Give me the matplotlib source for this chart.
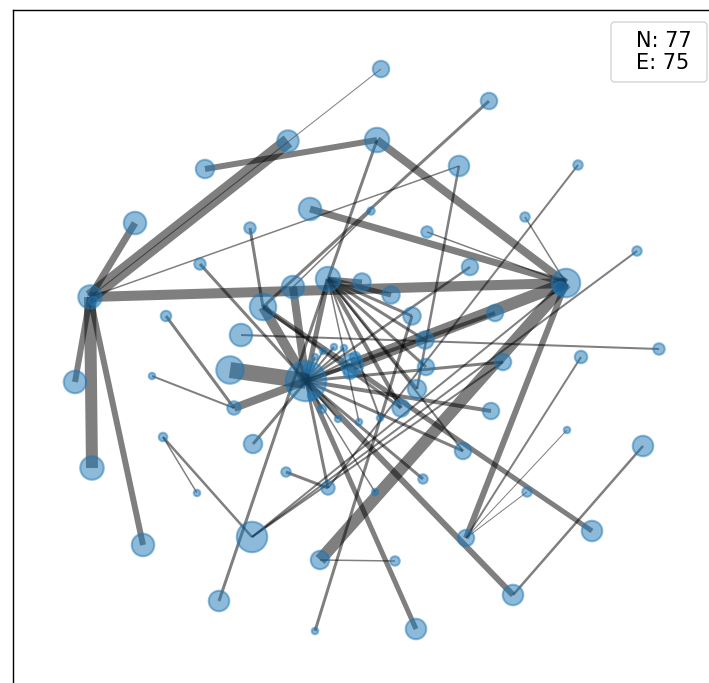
import matplotlib
matplotlib.use("Agg")
import matplotlib.pyplot as plt
from matplotlib.collections import LineCollection
from matplotlib.patches import FancyBboxPatch
import numpy as np

# ---- data: node layout positions, node radii ----
node_x = [381, 489, 288, 377, 205, 459, 578, 135, 310, 371,
          525, 250, 427, 637, 200, 470, 566, 90, 293, 328,
          362, 391, 263, 166, 412, 495, 241, 425, 659, 581,
          75, 230, 152, 306, 352, 355, 334, 344, 323, 315,
          426, 503, 417, 401, 491, 234, 322, 338, 359, 380,
          163, 253, 463, 286, 328, 423, 375, 567, 643, 197,
          527, 252, 143, 466, 592, 320, 395, 513, 219, 416,
          315, 92, 309, 312, 560, 93, 350]
node_y = [69, 101, 141, 140, 169, 166, 165, 223, 209, 211,
          217, 228, 232, 251, 264, 267, 283, 297, 287, 279,
          282, 295, 307, 316, 316, 313, 335, 340, 349, 357,
          382, 370, 376, 381, 365, 357, 347, 348, 351, 357,
          367, 362, 389, 408, 411, 408, 409, 419, 422, 418,
          437, 444, 451, 472, 488, 479, 492, 430, 446, 493,
          492, 537, 545, 538, 531, 560, 561, 595, 601, 629,
          631, 468, 368, 396, 288, 301, 373]
node_r = [9, 9, 11.5, 13, 10, 11, 5.5, 12, 12, 4.5,
          5.5, 6.5, 6.5, 5.5, 6.5, 9, 15, 12.5, 12, 13,
          9.5, 9.5, 14, 6, 9.5, 9, 12, 9.5, 6.5, 7,
          12, 14.5, 4, 21, 12, 6, 4, 4, 4, 4,
          9, 9, 10, 9.5, 9, 7.5, 5, 4, 4, 4,
          5, 10, 9, 5.5, 7.5, 5.5, 4, 4, 11, 4,
          5.5, 16, 12, 9, 11, 10, 5.5, 11, 11, 11,
          4, 12.5, 6, 5, 7, 5, 7]

# ---- data: edges (source index, target index, weight as drawn width) ----
edge_src = [17, 17, 17, 17, 17, 17, 17, 17, 4, 3,
            3, 1, 11, 14, 23, 32, 31, 45, 22, 18,
            19, 19, 19, 8, 12, 10, 6, 13, 28, 33,
            67, 22, 33, 33, 33, 33, 33, 53, 33, 50,
            50, 68, 70, 33, 65, 65, 63, 63, 63, 63,
            33, 33, 16, 33, 5, 19, 19, 19, 19, 19,
            19, 19, 22, 33, 33, 33, 33, 33, 33, 33,
            33, 16, 61, 19, 9]
edge_dst = [2, 7, 16, 0, 5, 30, 71, 62, 3, 16,
            19, 22, 22, 33, 45, 45, 33, 33, 33, 33,
            33, 20, 21, 16, 16, 16, 54, 61, 26, 67,
            58, 64, 44, 52, 55, 56, 54, 54, 51, 61,
            59, 19, 24, 69, 16, 66, 16, 57, 60, 29,
            41, 25, 34, 15, 42, 24, 27, 40, 42, 43,
            49, 48, 43, 34, 35, 36, 37, 38, 39, 46,
            47, 61, 41, 52, 18]
edge_w = [14, 7, 10, 1, 1.5, 6, 12, 6, 6, 8,
          3, 3, 3, 3, 3, 2, 16, 8, 10, 8,
          5, 5, 5, 7, 1.5, 1.5, 2, 2, 2, 6,
          2.5, 5, 4, 3, 3, 1.5, 3, 3, 3, 2.5,
          1.5, 3, 3, 5, 12, 1.5, 6, 1, 1, 2,
          3, 4, 12, 2.5, 2.5, 3, 3, 3, 3, 4,
          2, 1.5, 3, 4, 2, 2, 2, 2, 2, 2,
          2, 2, 2, 2, 1.5]

legend_lines = ["N: 77", "E: 75"]

W, H = 709, 683
DPI = 100
fig = plt.figure(figsize=(W / DPI, H / DPI), dpi=DPI)
# axes frame: left spine at x=13 px, top spine at y=10 px; right/bottom off the canvas
ax_left, ax_top, ax_right, ax_bottom = 13, 10, 716, 693
ax = fig.add_axes([ax_left / W, 1 - ax_bottom / H,
                   (ax_right - ax_left) / W, (ax_bottom - ax_top) / H])
ax.set_xlim(ax_left, ax_right)
ax.set_ylim(ax_bottom, ax_top)
ax.set_xticks([])
ax.set_yticks([])
for s in ax.spines.values():
    s.set_linewidth(1.0)
    s.set_color("black")

px2pt = 72.0 / DPI
nx = np.array(node_x, float)
ny = np.array(node_y, float)
segs = [[(nx[a], ny[a]), (nx[b], ny[b])] for a, b in zip(edge_src, edge_dst)]
lc = LineCollection(segs, colors="black", alpha=0.5,
                    linewidths=np.array(edge_w) * px2pt, capstyle="butt", zorder=1)
ax.add_collection(lc)

node_lw = 1.5
sizes = ((2 * np.array(node_r) - 1.5) * px2pt) ** 2
ax.scatter(nx, ny, s=sizes, c="#1f77b4", alpha=0.5, edgecolors="#1f77b4",
           linewidths=node_lw, zorder=2)

# legend-like info box
box = FancyBboxPatch((611, 22), 96, 60, boxstyle="round,pad=0,rounding_size=4",
                     fc="white", ec="#d0d0d0", lw=1.0, alpha=0.9, zorder=5,
                     transform=ax.transData)
ax.add_patch(box)
ax.text(636, 52, "\n".join(legend_lines), ha="left", va="center",
        fontsize=15, linespacing=1.15, zorder=6)

fig.savefig("out.png", dpi=DPI)
